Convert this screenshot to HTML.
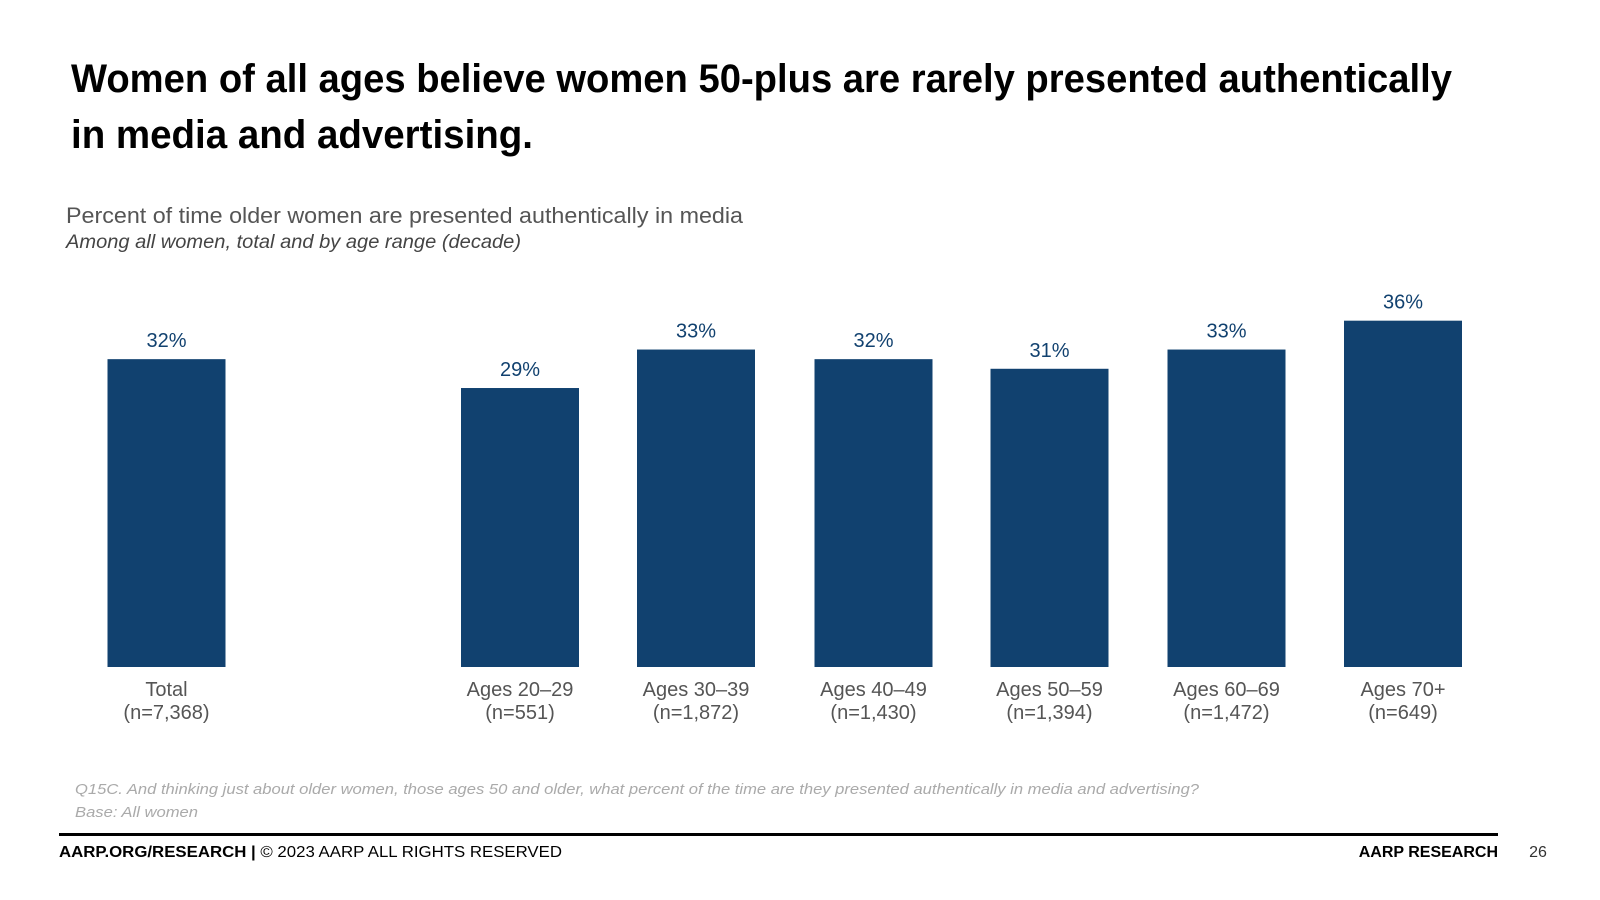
<!DOCTYPE html>
<html><head><meta charset="utf-8"><style>
body{margin:0;background:#fff;width:1600px;height:900px;overflow:hidden}
svg{display:block;font-family:"Liberation Sans",Arial,sans-serif}
</style></head><body>
<svg id="c" width="1600" height="900" viewBox="0 0 1600 900">
<text x="71" y="92" font-size="40" font-weight="bold" fill="#000" textLength="1381" lengthAdjust="spacingAndGlyphs">Women of all ages believe women 50-plus are rarely presented authentically</text>
<text x="71" y="148" font-size="40" font-weight="bold" fill="#000" textLength="462" lengthAdjust="spacingAndGlyphs">in media and advertising.</text>
<text x="66" y="223" font-size="22" fill="#555" textLength="677" lengthAdjust="spacingAndGlyphs">Percent of time older women are presented authentically in media</text>
<text x="66" y="248" font-size="19" font-style="italic" fill="#444" textLength="455" lengthAdjust="spacingAndGlyphs">Among all women, total and by age range (decade)</text>
<g id="bars"></g>
<text x="75" y="794" font-size="15" font-style="italic" fill="#aaa" textLength="1124" lengthAdjust="spacingAndGlyphs">Q15C. And thinking just about older women, those ages 50 and older, what percent of the time are they presented authentically in media and advertising?</text>
<text x="75" y="817" font-size="15" font-style="italic" fill="#aaa" textLength="123" lengthAdjust="spacingAndGlyphs">Base: All women</text>
<rect x="59" y="833" width="1439" height="3" fill="#000"/>
<text x="59" y="857" font-size="16" fill="#000" textLength="503" lengthAdjust="spacingAndGlyphs"><tspan font-weight="bold">AARP.ORG/RESEARCH |</tspan> © 2023 AARP ALL RIGHTS RESERVED</text>
<text x="1498" y="857" font-size="16" font-weight="bold" fill="#000" text-anchor="end">AARP RESEARCH</text>
<text x="1538" y="857" font-size="16" fill="#333" text-anchor="middle">26</text>
</svg>
<script>
const categories=["Total","Ages 20–29","Ages 30–39","Ages 40–49","Ages 50–59","Ages 60–69","Ages 70+"];
const sampleSizes=["(n=7,368)","(n=551)","(n=1,872)","(n=1,430)","(n=1,394)","(n=1,472)","(n=649)"];
const values=[32,29,33,32,31,33,36];
const centers=[166.5,520,696,873.5,1049.5,1226.5,1403];
const ns="http://www.w3.org/2000/svg";
const g=document.getElementById('bars');
const baseY=667, pxPer=9.62, bw=118;
function y(v){return baseY-v*pxPer;}
function mk(t,a){const e=document.createElementNS(ns,t);for(const k in a)e.setAttribute(k,a[k]);g.appendChild(e);return e;}
values.forEach((v,i)=>{
  const cx=centers[i];
  const r=mk('rect',{x:cx-bw/2,y:y(v),width:bw,height:baseY-y(v),fill:'#11416f'});
  
  
  const l=mk('text',{x:cx,y:y(v)-12,'font-size':20,fill:'#11416f','text-anchor':'middle'});
  l.textContent=v+'%';
  
  
  const c=mk('text',{x:cx,y:696,'font-size':20,fill:'#555','text-anchor':'middle'});
  c.textContent=categories[i];
  
  
  const n=mk('text',{x:cx,y:719,'font-size':20,fill:'#555','text-anchor':'middle'});
  n.textContent=sampleSizes[i];
  
  
});
</script>
</body></html>
